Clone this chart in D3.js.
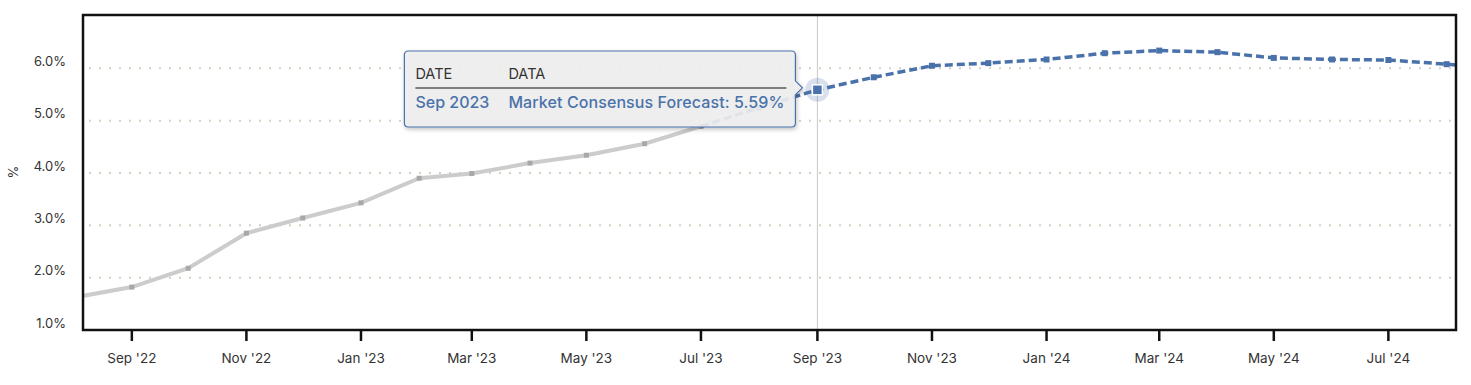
<!DOCTYPE html>
<html>
<head>
<meta charset="utf-8">
<script src="https://cdn.jsdelivr.net/npm/d3@7"></script>
<style>
  body { margin: 0; background: #fff; font-family: Inter, "Noto Sans", sans-serif; }
  svg { display: block; }
</style>
</head>
<body>
<svg width="1471" height="385"></svg>
<script>
// historical series (grey)
let histDates = ["2022-08", "2022-09", "2022-10", "2022-11", "2022-12", "2023-01", "2023-02",
                 "2023-03", "2023-04", "2023-05", "2023-06", "2023-07"];
let histValues = [1.62, 1.82, 2.18, 2.85, 3.14, 3.43, 3.90, 3.99, 4.19, 4.34, 4.56, 4.89];

// market consensus forecast (blue dashed)
let fcDates = ["2023-07", "2023-08", "2023-09", "2023-10", "2023-11", "2023-12", "2024-01",
               "2024-02", "2024-03", "2024-04", "2024-05", "2024-06", "2024-07", "2024-08", "2024-09"];
let fcValues = [4.89, 5.25, 5.59, 5.83, 6.05, 6.10, 6.17, 6.29, 6.34, 6.31, 6.20, 6.17, 6.16, 6.08, 5.98];

let yTicks = [1, 2, 3, 4, 5, 6];
let xTicks = ["2022-09", "2022-11", "2023-01", "2023-03", "2023-05", "2023-07", "2023-09",
              "2023-11", "2024-01", "2024-03", "2024-05", "2024-07"];

let hoverDate = "2023-09";
let tipSeries = "Market Consensus Forecast";

let parse = d3.timeParse("%Y-%m");
let svg = d3.select('svg');

let mLeft = 83, mRight = 1456, mTop = 15, mBottom = 330;

let x = d3.scaleTime()
  .domain([new Date(2022, 7, 6), new Date(2024, 7, 6)])
  .range([mLeft, mRight]);
let y = d3.scaleLinear()
  .domain([1, 7.02])
  .range([mBottom, mTop]);

let hist = histDates.map((d, i) => ({ date: parse(d), value: histValues[i] }));
let fc = fcDates.map((d, i) => ({ date: parse(d), value: fcValues[i], key: d }));

let defs = svg.append('defs');
defs.append('clipPath').attr('id', 'clip')
  .append('rect').attr('x', mLeft).attr('y', mTop).attr('width', mRight - mLeft).attr('height', mBottom - mTop);

// gridlines
svg.append('g')
  .selectAll('line')
  .data(yTicks.filter(t => t > 1))
  .enter()
  .append('line')
  .attr('x1', mLeft + 6).attr('x2', mRight)
  .attr('y1', d => y(d)).attr('y2', d => y(d))
  .attr('stroke', '#d6cfc2')
  .attr('stroke-width', 2)
  .attr('stroke-dasharray', '2,8');

// y labels
svg.append('g')
  .selectAll('text')
  .data(yTicks)
  .enter()
  .append('text')
  .attr('x', 66)
  .attr('y', d => y(d) - 2.5)
  .attr('text-anchor', 'end')
  .attr('font-size', 13)
  .attr('fill', '#333')
  .text(d => d.toFixed(1) + '%');

svg.append('text')
  .attr('transform', 'translate(18,172) rotate(-90)')
  .attr('text-anchor', 'middle')
  .attr('font-size', 13)
  .attr('fill', '#333')
  .text('%');

// crosshair
svg.append('line')
  .attr('x1', x(parse(hoverDate))).attr('x2', x(parse(hoverDate)))
  .attr('y1', mTop).attr('y2', mBottom)
  .attr('stroke', '#c8c8c8').attr('stroke-width', 1);

let line = d3.line().x(d => x(d.date)).y(d => y(d.value));
let plot = svg.append('g').attr('clip-path', 'url(#clip)');

plot.append('path')
  .attr('d', line(hist))
  .attr('fill', 'none')
  .attr('stroke', '#cccccc')
  .attr('stroke-width', 4);

plot.selectAll('rect.hm')
  .data(hist)
  .enter()
  .append('rect')
  .attr('class', 'hm')
  .attr('x', d => x(d.date) - 2.5).attr('y', d => y(d.value) - 2.5)
  .attr('width', 5).attr('height', 5)
  .attr('fill', '#a8a8a8');

plot.append('path')
  .attr('d', line(fc))
  .attr('fill', 'none')
  .attr('stroke', '#4a72aa')
  .attr('stroke-width', 3.5)
  .attr('stroke-dasharray', '8,4');

plot.selectAll('rect.fm')
  .data(fc.filter(d => !histDates.includes(d.key)))
  .enter()
  .append('rect')
  .attr('class', 'fm')
  .attr('x', d => x(d.date) - 3).attr('y', d => y(d.value) - 3)
  .attr('width', 6).attr('height', 6)
  .attr('fill', '#4a72aa');

// frame
svg.append('rect')
  .attr('x', mLeft).attr('y', mTop)
  .attr('width', mRight - mLeft).attr('height', mBottom - mTop)
  .attr('fill', 'none')
  .attr('stroke', '#111')
  .attr('stroke-width', 2.5);

// x ticks
let xg = svg.append('g');
xg.selectAll('line')
  .data(xTicks)
  .enter()
  .append('line')
  .attr('x1', d => x(parse(d))).attr('x2', d => x(parse(d)))
  .attr('y1', mBottom).attr('y2', mBottom + 11)
  .attr('stroke', '#111').attr('stroke-width', 2.5);
xg.selectAll('text')
  .data(xTicks)
  .enter()
  .append('text')
  .attr('x', d => x(parse(d)))
  .attr('y', mBottom + 33)
  .attr('text-anchor', 'middle')
  .attr('font-size', 13.5)
  .attr('fill', '#333')
  .text(d => d3.timeFormat("%b '%y")(parse(d)));

// hovered point
let hp = fc[fcDates.indexOf(hoverDate)];
let hx = x(hp.date), hy = y(hp.value);
svg.append('circle')
  .attr('cx', hx).attr('cy', hy).attr('r', 12)
  .attr('fill', '#4a72aa').attr('fill-opacity', 0.22);
svg.append('rect')
  .attr('x', hx - 5).attr('y', hy - 5).attr('width', 10).attr('height', 10)
  .attr('fill', '#4a72aa').attr('stroke', '#fff').attr('stroke-width', 1.5);

// tooltip
let tw = 391, th = 76;
let tx = hx - 22 - tw, ty = 51;
let f = defs.append('filter').attr('id', 'sh').attr('x', -0.1).attr('y', -0.2).attr('width', 1.2).attr('height', 1.5);
f.append('feDropShadow').attr('dx', 1).attr('dy', 2).attr('stdDeviation', 2).attr('flood-color', '#000').attr('flood-opacity', 0.25);

let tip = svg.append('g');
let ax = tx + tw, ay = hy;
tip.append('path')
  .attr('d', `M${tx + 4},${ty} H${ax - 4} Q${ax},${ty} ${ax},${ty + 4} V${ay - 9} L${ax + 7},${ay - 2} L${ax},${ay + 5} V${ty + th - 4} Q${ax},${ty + th} ${ax - 4},${ty + th} H${tx + 4} Q${tx},${ty + th} ${tx},${ty + th - 4} V${ty + 4} Q${tx},${ty} ${tx + 4},${ty} Z`)
  .attr('fill', '#f0f0f0').attr('fill-opacity', 0.9)
  .attr('stroke', '#4a72aa').attr('stroke-width', 1.2)
  .attr('filter', 'url(#sh)');

tip.append('text').attr('x', tx + 11).attr('y', ty + 28).attr('font-size', 14.5).attr('fill', '#333').text('DATE');
tip.append('text').attr('x', tx + 104).attr('y', ty + 28).attr('font-size', 14.5).attr('fill', '#333').text('DATA');
tip.append('line')
  .attr('x1', tx + 11).attr('x2', tx + 382)
  .attr('y1', ty + 37).attr('y2', ty + 37)
  .attr('stroke', '#111').attr('stroke-width', 1);
tip.append('text').attr('x', tx + 11).attr('y', ty + 57).attr('font-size', 16).attr('font-weight', 500).attr('fill', '#4a72aa')
  .text(d3.timeFormat('%b %Y')(hp.date));
tip.append('text').attr('x', tx + 104).attr('y', ty + 57).attr('font-size', 16).attr('font-weight', 500).attr('fill', '#4a72aa')
  .attr('textLength', 276).attr('lengthAdjust', 'spacing')
  .text(tipSeries + ': ' + hp.value.toFixed(2) + '%');
</script>
</body>
</html>
